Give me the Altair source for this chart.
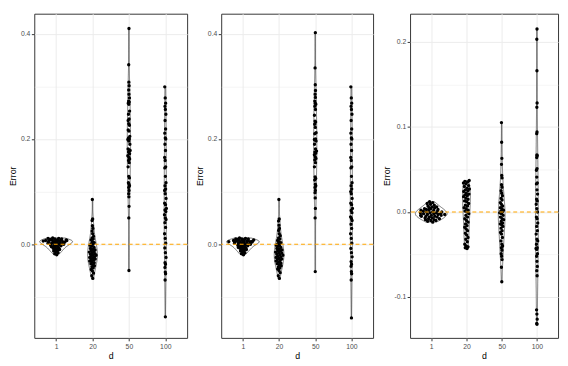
import altair as alt
import pandas as pd

d_levels = [1, 20, 50, 100]
d_labels = ["1", "20", "50", "100"]

# ---- panel 1 ----
p1_d1 = [0.012, 0.011, 0.011, 0.010, 0.010, 0.009, 0.009, 0.008, 0.008, 0.008, 0.007, 0.007, 0.007,
         0.006, 0.006, 0.006, 0.005, 0.005, 0.005, 0.004, 0.004, 0.003, 0.003, 0.002, 0.002, 0.001,
         0.001, 0.000, 0.000, -0.001, -0.001, -0.002, -0.002, -0.003, -0.004, -0.005, -0.005, -0.006,
         -0.007, -0.008, -0.009, -0.010, -0.011, -0.012, -0.013, -0.014, -0.016, -0.018, -0.020]
p1_d20 = [0.085, 0.048, 0.045, 0.035, 0.030, 0.025, 0.020, 0.015, 0.012, 0.010, 0.008, 0.005, 0.003,
          0.001, 0.000, -0.002, -0.004, -0.006, -0.008, -0.010, -0.011, -0.012, -0.014, -0.015, -0.016,
          -0.018, -0.019, -0.020, -0.021, -0.022, -0.024, -0.025, -0.026, -0.028, -0.029, -0.030, -0.032,
          -0.034, -0.035, -0.037, -0.039, -0.041, -0.043, -0.045, -0.048, -0.051, -0.055, -0.060, -0.065]
p1_d50 = [0.410, 0.341, 0.308, 0.301, 0.293, 0.285, 0.278, 0.272, 0.270, 0.268, 0.266, 0.253, 0.247,
          0.238, 0.235, 0.229, 0.226, 0.217, 0.215, 0.205, 0.202, 0.200, 0.199, 0.196, 0.190, 0.181,
          0.179, 0.178, 0.175, 0.172, 0.168, 0.165, 0.162, 0.159, 0.155, 0.147, 0.129, 0.126, 0.117,
          0.114, 0.111, 0.108, 0.102, 0.096, 0.090, 0.072, 0.050, -0.050]
p1_d100 = [0.299, 0.278, 0.268, 0.262, 0.256, 0.247, 0.235, 0.219, 0.211, 0.202, 0.200, 0.190, 0.178,
           0.165, 0.159, 0.147, 0.145, 0.129, 0.117, 0.111, 0.105, 0.102, 0.096, 0.087, 0.078, 0.075,
           0.068, 0.065, 0.062, 0.056, 0.050, 0.047, 0.041, 0.032, 0.020, 0.011, 0.002, -0.007, -0.016,
           -0.025, -0.035, -0.038, -0.044, -0.053, -0.056, -0.068, -0.138]

# ---- panel 2 ----
p2_d1 = [0.012, 0.011, 0.010, 0.010, 0.010, 0.009, 0.009, 0.008, 0.008, 0.007, 0.007, 0.007, 0.006,
         0.006, 0.006, 0.005, 0.005, 0.005, 0.004, 0.004, 0.004, 0.003, 0.003, 0.002, 0.002, 0.001,
         0.001, 0.000, 0.000, -0.001, -0.001, -0.002, -0.003, -0.003, -0.004, -0.005, -0.006, -0.006,
         -0.007, -0.008, -0.009, -0.010, -0.011, -0.012, -0.013, -0.015, -0.016, -0.018, -0.020]
p2_d20 = [0.085, 0.048, 0.044, 0.036, 0.030, 0.026, 0.020, 0.016, 0.012, 0.010, 0.007, 0.005, 0.003,
          0.001, -0.001, -0.002, -0.004, -0.006, -0.008, -0.009, -0.011, -0.012, -0.013, -0.015, -0.016,
          -0.017, -0.019, -0.020, -0.021, -0.023, -0.024, -0.025, -0.027, -0.028, -0.029, -0.031, -0.032,
          -0.034, -0.036, -0.037, -0.039, -0.041, -0.043, -0.045, -0.047, -0.050, -0.054, -0.060, -0.065]
p2_d50 = [0.402, 0.335, 0.303, 0.292, 0.285, 0.279, 0.272, 0.268, 0.266, 0.262, 0.256, 0.245, 0.234,
          0.232, 0.228, 0.222, 0.212, 0.210, 0.200, 0.199, 0.198, 0.196, 0.190, 0.181, 0.177, 0.175,
          0.173, 0.170, 0.166, 0.163, 0.160, 0.155, 0.147, 0.128, 0.125, 0.122, 0.114, 0.111, 0.108,
          0.102, 0.098, 0.088, 0.068, 0.050, -0.052]
p2_d100 = [0.299, 0.278, 0.268, 0.262, 0.256, 0.247, 0.235, 0.219, 0.211, 0.202, 0.200, 0.190, 0.178,
           0.165, 0.159, 0.147, 0.145, 0.129, 0.117, 0.111, 0.105, 0.100, 0.096, 0.087, 0.078, 0.075,
           0.068, 0.064, 0.060, 0.052, 0.049, 0.045, 0.038, 0.030, 0.020, 0.011, 0.002, -0.008, -0.016,
           -0.024, -0.033, -0.038, -0.042, -0.052, -0.056, -0.068, -0.140]

# ---- panel 3 ----
p3_d1 = [0.012, 0.011, 0.010, 0.009, 0.008, 0.007, 0.006, 0.006, 0.005, 0.005, 0.004, 0.004, 0.003,
         0.003, 0.002, 0.002, 0.002, 0.001, 0.001, 0.000, 0.000, 0.000, -0.001, -0.001, -0.001, -0.002,
         -0.002, -0.002, -0.003, -0.003, -0.003, -0.004, -0.004, -0.004, -0.005, -0.005, -0.005, -0.006,
         -0.006, -0.007, -0.007, -0.008, -0.008, -0.009, -0.009, -0.010, -0.010, -0.011, -0.012]
p3_d20 = [0.037, 0.036, 0.035, 0.034, 0.033, 0.031, 0.030, 0.028, 0.027, 0.026, 0.025, 0.024, 0.022,
          0.021, 0.020, 0.019, 0.018, 0.016, 0.015, 0.013, 0.012, 0.010, 0.008, 0.007, 0.005, 0.004,
          0.002, 0.001, 0.000, -0.002, -0.004, -0.006, -0.008, -0.010, -0.012, -0.014, -0.016, -0.018,
          -0.020, -0.022, -0.025, -0.027, -0.030, -0.032, -0.035, -0.038, -0.040, -0.041, -0.042, -0.043]
p3_d50 = [0.105, 0.082, 0.063, 0.056, 0.043, 0.040, 0.032, 0.029, 0.025, 0.022, 0.019, 0.016, 0.014,
          0.011, 0.009, 0.007, 0.005, 0.004, 0.002, 0.001, 0.000, -0.001, -0.002, -0.004, -0.006, -0.008,
          -0.009, -0.011, -0.013, -0.014, -0.015, -0.017, -0.019, -0.022, -0.024, -0.026, -0.030, -0.034,
          -0.038, -0.040, -0.042, -0.045, -0.049, -0.052, -0.056, -0.065, -0.082]
p3_d100 = [0.215, 0.203, 0.166, 0.128, 0.123, 0.094, 0.092, 0.067, 0.066, 0.064, 0.051, 0.049, 0.041,
           0.034, 0.033, 0.026, 0.021, 0.015, 0.013, 0.009, 0.004, 0.000, -0.006, -0.008, -0.013, -0.017,
           -0.022, -0.026, -0.032, -0.034, -0.038, -0.042, -0.043, -0.044, -0.049, -0.052, -0.058, -0.064,
           -0.069, -0.075, -0.115, -0.120, -0.126, -0.131, -0.132]

ref_line = [0.0]

panels_data = [
    [p1_d1, p1_d20, p1_d50, p1_d100],
    [p2_d1, p2_d20, p2_d50, p2_d100],
    [p3_d1, p3_d20, p3_d50, p3_d100],
]

rows = []
for pi, groups in enumerate(panels_data):
    for d, vals in zip(d_levels, groups):
        for v in vals:
            rows.append({"panel": pi, "d": d, "err": v})
df = pd.DataFrame(rows)
ref_df = pd.DataFrame({"ref": ref_line})

pos_expr = "indexof(" + str(d_levels) + ", datum.d) + 1"
x_label_expr = "[" + ",".join("'" + s + "'" for s in d_labels) + "][datum.value - 1]"

FONT = "Liberation Sans"


def panel(pi, ydom, mult, yvals, w, h):
    data = df[df.panel == pi]
    minor = f"abs(round(datum.value*{mult})) % 2 == 1"
    yaxis = alt.Axis(
        title="Error",
        values=yvals,
        labelExpr=f"{minor} ? '' : (datum.value < 0 ? '-' : '') + format(abs(datum.value), '.1f')",
        gridWidth={"condition": {"test": minor, "value": 0.5}, "value": 1},
        tickOpacity={"condition": {"test": minor, "value": 0}, "value": 1},
    )
    yscale = alt.Scale(domain=ydom, nice=False, zero=False)
    xscale = alt.Scale(domain=[0.4, 4.6], nice=False, zero=False)
    xaxis = alt.Axis(title="d", values=[1, 2, 3, 4], labelExpr=x_label_expr)

    base = alt.Chart(data)
    violin = (
        base.transform_joinaggregate(lo="min(err)", hi="max(err)", groupby=["d"])
        .transform_density("err", as_=["err", "density"], groupby=["d", "lo", "hi"], steps=900)
        .transform_filter("datum.err >= datum.lo && datum.err <= datum.hi")
        .transform_joinaggregate(maxd="max(density)")
        .transform_calculate(pos=pos_expr)
        .transform_calculate(
            xl="datum.pos - 0.45 * datum.density / datum.maxd",
            xr="datum.pos + 0.45 * datum.density / datum.maxd",
        )
        .mark_area(orient="horizontal", fill="white", stroke="#333333", strokeWidth=0.7)
        .encode(
            y=alt.Y("err:Q", scale=yscale, axis=yaxis),
            x=alt.X("xl:Q", scale=xscale, axis=xaxis),
            x2="xr:Q",
            detail="d:N",
        )
    )
    pts = (
        base.transform_calculate(pos=pos_expr)
        .transform_joinaggregate(sd="stdev(err)", groupby=["d"])
        .transform_joinaggregate(minsd="min(sd)")
        .transform_window(
            rn="row_number()", wlo="min(err)", whi="max(err)", cnt="count()",
            groupby=["d"], sort=[alt.SortField("err", order="ascending")], frame=[-5, 5],
        )
        .transform_calculate(ld="(datum.cnt - 1) / max(datum.whi - datum.wlo, 0.0005)")
        .transform_joinaggregate(maxld="max(ld)", groupby=["d"])
        .transform_calculate(
            xj="datum.pos + (((datum.rn * 0.618034) % 1) * 2 - 1) * 0.40 * (datum.minsd / datum.sd) * datum.ld / datum.maxld"
        )
        .mark_circle(size=12, color="black", opacity=1)
        .encode(
            x=alt.X("xj:Q", scale=xscale, axis=xaxis),
            y=alt.Y("err:Q", scale=yscale, axis=yaxis),
        )
    )
    rule = (
        alt.Chart(ref_df)
        .mark_rule(color="#FFA500", strokeDash=[4, 3], strokeWidth=1.2)
        .encode(y=alt.Y("ref:Q", scale=yscale, axis=yaxis))
    )
    return alt.layer(violin, pts, rule).properties(width=w, height=h)


H = 333
c1 = panel(0, [-0.178, 0.438], 10, [-0.1, 0.0, 0.1, 0.2, 0.3, 0.4], 157, H)
c2 = panel(1, [-0.178, 0.438], 10, [-0.1, 0.0, 0.1, 0.2, 0.3, 0.4], 156, H)
c3 = panel(2, [-0.148, 0.233], 20, [-0.1, -0.05, 0.0, 0.05, 0.1, 0.15, 0.2], 152, H)

chart = (
    alt.hconcat(c1, c2, c3, spacing=6)
    .properties(padding=0, background="white")
    .configure_view(stroke="#333333", strokeWidth=1, fill="white")
    .configure_axis(
        labelFont=FONT, labelFontSize=7, labelColor="#4D4D4D", labelPadding=1.5,
        titleFont=FONT, titleFontSize=9, titleFontWeight="normal", titleColor="black",
        titlePadding=3,
        tickColor="#333333", tickSize=3, domain=False, gridColor="#EBEBEB",
    )
)

chart.save("out.html", embed_options={"renderer": "svg", "actions": False})
